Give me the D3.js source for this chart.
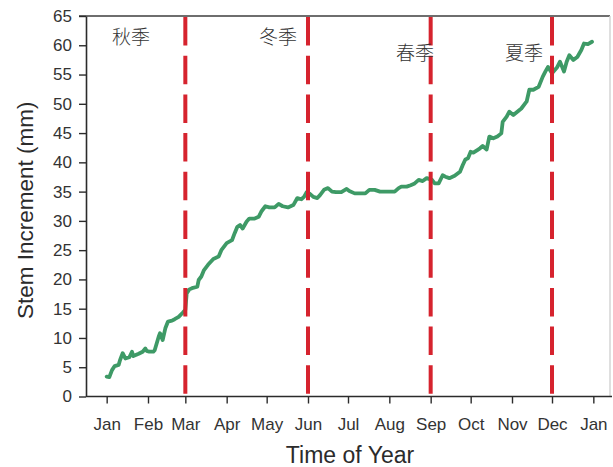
<!DOCTYPE html>
<html>
<head>
<meta charset="utf-8">
<script src="https://cdn.jsdelivr.net/npm/d3@7"></script>
<style>
  html, body { margin: 0; padding: 0; background: #fff; }
  svg { display: block; }
</style>
</head>
<body>
<svg id="chart" width="613" height="467"></svg>
<script>
// Daily stem increment record: day of year (0 = 1 Jan) and cumulative increment (mm)
const dayOfYear = [
  0, 2, 4, 6, 9, 10, 12, 14, 17, 19,
  20, 24, 27, 29, 30, 32, 35, 36, 39, 40,
  42, 44, 46, 49, 51, 54, 57, 59, 60, 62,
  64, 68, 69, 71, 73, 76, 80, 84, 86, 90,
  94, 96, 98, 100, 102, 105, 107, 111, 114, 116,
  119, 122, 126, 129, 132, 136, 140, 143, 146, 148,
  150, 152, 155, 158, 160, 163, 166, 169, 172, 176,
  180, 182, 186, 190, 194, 197, 201, 205, 209, 212,
  216, 219, 221, 225, 228, 231, 234, 237, 240, 244,
  246, 249, 252, 254, 257, 261, 265, 267, 269, 271,
  273, 275, 278, 280, 282, 285, 287, 290, 293, 296,
  297, 300, 302, 305, 308, 311, 315, 317, 320, 324,
  327, 329, 331, 334, 338, 340, 343, 345, 347, 350,
  353, 356, 358, 361, 364
];
const increment = [
  3.4, 3.3, 4.5, 5.2, 5.4, 6.2, 7.4, 6.5, 6.7, 7.65,
  6.9, 7.3, 7.65, 8.2, 7.8, 7.65, 7.65, 7.9, 10.2, 10.8,
  9.65, 11.65, 12.8, 12.95, 13.2, 13.6, 14.3, 14.8, 17.6, 18.3,
  18.5, 18.75, 19.9, 20.5, 21.6, 22.5, 23.5, 23.9, 25.0, 26.2,
  26.7, 27.9, 29.0, 29.3, 28.7, 29.9, 30.4, 30.4, 30.7, 31.6,
  32.5, 32.3, 32.3, 32.9, 32.5, 32.3, 32.7, 33.9, 33.7, 34.1,
  34.9, 34.7, 34.1, 33.9, 34.4, 35.3, 35.6, 35.0, 34.9, 34.9,
  35.45, 35.1, 34.7, 34.7, 34.7, 35.3, 35.3, 35.0, 35.0, 35.0,
  35.0, 35.6, 35.85, 35.85, 36.1, 36.4, 37.0, 36.8, 37.3, 37.0,
  36.4, 36.4, 37.8, 37.55, 37.3, 37.7, 38.4, 39.5, 40.5, 40.7,
  41.8, 41.65, 42.1, 42.4, 42.8, 42.2, 44.4, 44.1, 44.4, 44.95,
  46.9, 47.8, 48.65, 48.1, 48.65, 49.2, 50.4, 52.4, 52.4, 52.9,
  54.6, 55.5, 56.3, 55.2, 56.3, 57.2, 55.5, 57.2, 58.3, 57.5,
  58.0, 59.2, 60.3, 60.2, 60.6
];

// Month tick labels (1 Jan through 1 Jan of the following year)
const monthLabels = ["Jan", "Feb", "Mar", "Apr", "May", "Jun", "Jul", "Aug", "Sep", "Oct", "Nov", "Dec", "Jan"];
// Y axis ticks (mm)
const yTicks = [0, 5, 10, 15, 20, 25, 30, 35, 40, 45, 50, 55, 60, 65];
// Season boundaries (month index of the boundary) and season names
const seasonBoundaryMonths = [2, 5, 8, 11];
const seasonNames = ["秋季", "冬季", "春季", "夏季"];

const svg = d3.select("#chart");
const plotLeft = 86, plotRight = 610, plotTop = 16, plotBottom = 396.5;

const yearStart = Date.UTC(2015, 0, 1);
const toDate = d => new Date(yearStart + d * 864e5);

const x = d3.scaleUtc()
  .domain([toDate(-15.5), toDate(365 + 12.5)])
  .range([plotLeft, plotRight]);
const y = d3.scaleLinear().domain([0, 65]).range([plotBottom, plotTop]);

const monthDates = monthLabels.map((_, i) => new Date(Date.UTC(2015, i, 1)));

// frame: grey top edge, light right edge
svg.append("line")
  .attr("x1", plotLeft - 7).attr("x2", plotRight).attr("y1", plotTop).attr("y2", plotTop)
  .attr("stroke", "#6e6e6e").attr("stroke-width", 2);
svg.append("line")
  .attr("x1", plotRight).attr("x2", plotRight).attr("y1", plotTop).attr("y2", plotBottom)
  .attr("stroke", "#d4d4d4").attr("stroke-width", 1.5);

// Y axis
const yAxis = svg.append("g")
  .attr("transform", `translate(${plotLeft},0)`)
  .call(d3.axisLeft(y).tickValues(yTicks).tickSize(7).tickPadding(7).tickSizeOuter(0));
yAxis.select(".domain").attr("stroke", "#2b2b2b").attr("stroke-width", 1.6);
yAxis.selectAll(".tick line").attr("stroke", "#2b2b2b").attr("stroke-width", 1.4);
yAxis.selectAll(".tick text")
  .attr("fill", "#333").attr("font-family", "Liberation Sans, Arial, sans-serif").attr("font-size", 17);

// X axis
const xAxis = svg.append("g")
  .attr("transform", `translate(0,${plotBottom})`)
  .call(d3.axisBottom(x).tickValues(monthDates)
    .tickFormat((d, i) => monthLabels[i]).tickSize(7).tickPadding(14).tickSizeOuter(0));
xAxis.select(".domain").attr("stroke", "#2b2b2b").attr("stroke-width", 1.6)
  .attr("d", `M${plotLeft},0H${plotRight + 2}`);
xAxis.selectAll(".tick line").attr("stroke", "#2b2b2b").attr("stroke-width", 1.4);
xAxis.selectAll(".tick text")
  .attr("fill", "#333").attr("font-family", "Liberation Sans, Arial, sans-serif").attr("font-size", 17);

// axis titles
svg.append("text")
  .attr("transform", `translate(33,${(plotTop + plotBottom) / 2 + 4}) rotate(-90)`)
  .attr("text-anchor", "middle")
  .attr("font-family", "Liberation Sans, Arial, sans-serif").attr("font-size", 22.5)
  .attr("fill", "#2b2b2b")
  .text("Stem Increment (mm)");
svg.append("text")
  .attr("x", (plotLeft + plotRight) / 2 + 2).attr("y", 463)
  .attr("text-anchor", "middle")
  .attr("font-family", "Liberation Sans, Arial, sans-serif").attr("font-size", 23)
  .attr("fill", "#2b2b2b")
  .text("Time of Year");

// growth curve
const line = d3.line()
  .x((d, i) => x(toDate(dayOfYear[i])))
  .y(d => y(d))
  .curve(d3.curveLinear);
svg.append("path")
  .datum(increment)
  .attr("d", line)
  .attr("fill", "none")
  .attr("stroke", "#3e9a66")
  .attr("stroke-width", 3.8)
  .attr("stroke-linejoin", "round")
  .attr("stroke-linecap", "round");

// season boundaries
const boundaryDates = seasonBoundaryMonths.map(m => new Date(Date.UTC(2015, m, 1)));
svg.selectAll("line.season")
  .data(boundaryDates)
  .join("line")
  .attr("class", "season")
  .attr("x1", d => x(d)).attr("x2", d => x(d))
  .attr("y1", plotTop + 1).attr("y2", plotBottom - 1)
  .attr("stroke", "#d6232e")
  .attr("stroke-width", 4)
  .attr("stroke-dasharray", "28.5,10.2");

// season names: first one centred in its span, others ending near their boundary
const labelLayout = [
  { x: 131, y: 44, anchor: "middle" },
  { x: 297, y: 44, anchor: "end" },
  { x: 434, y: 60, anchor: "end" },
  { x: 543, y: 60, anchor: "end" }
];
svg.selectAll("text.season")
  .data(seasonNames)
  .join("text")
  .attr("class", "season")
  .attr("x", (d, i) => labelLayout[i].x)
  .attr("y", (d, i) => labelLayout[i].y)
  .attr("text-anchor", (d, i) => labelLayout[i].anchor)
  .attr("font-family", "Noto Sans CJK SC, sans-serif")
  .attr("font-weight", 300)
  .attr("font-size", 19)
  .attr("fill", "#333")
  .text(d => d);
</script>
</body>
</html>
